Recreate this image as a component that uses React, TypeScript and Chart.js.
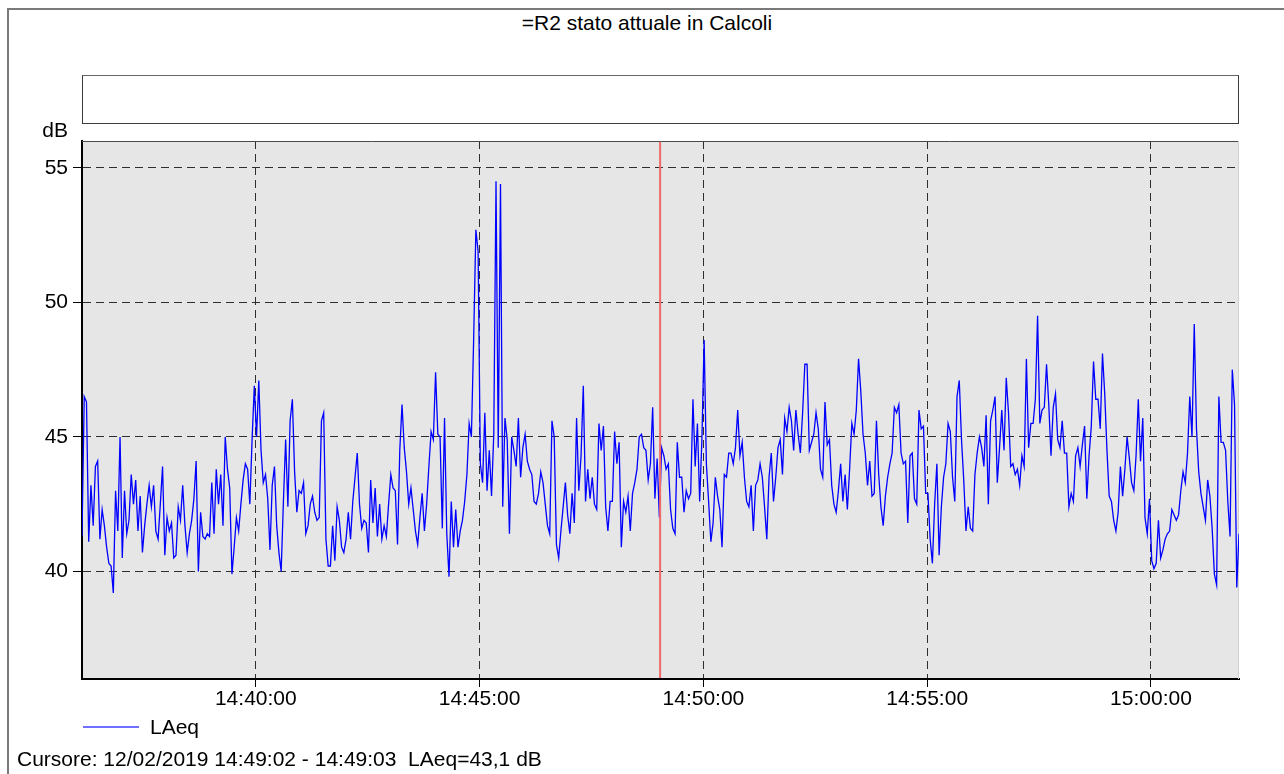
import React, { useEffect, useRef } from "react";
import { Chart, registerables } from "chart.js";

Chart.register(...registerables);

// ---- data ----
const titleText = "=R2 stato attuale in Calcoli";
const unitLabel = "dB";
const seriesName = "LAeq";
const cursorText = "Cursore: 12/02/2019 14:49:02 - 14:49:03  LAeq=43,1 dB";
const startTime = "14:36:07";
const sampleStepSeconds = 3;
const xRange = ["14:36:07", "15:01:58"];
const yRange = [36, 56];
const xTickTimes = ["14:40:00", "14:45:00", "14:50:00", "14:55:00", "15:00:00"];
const yTicks = [40, 45, 50, 55];
const cursorTime = "14:49:02";

// LAeq [dB], one value every 3 s from 14:36:07
const laeq = [
  41.3, 46.5, 46.3, 41.1, 43.2, 41.7, 43.9, 44.1, 41.2, 42.3,
  41.7, 40.9, 40.3, 40.2, 39.2, 43.0, 41.5, 45.0, 40.5, 43.0,
  41.4, 41.9, 43.6, 42.5, 43.4, 41.5, 42.8, 40.7, 41.7, 42.5,
  43.2, 42.4, 43.2, 41.5, 41.2, 42.5, 43.9, 40.6, 42.0, 41.5,
  41.8, 40.5, 40.6, 42.4, 41.9, 43.2, 41.7, 40.7, 41.4, 41.9,
  42.7, 44.1, 40.0, 42.2, 41.3, 41.2, 41.4, 41.3, 43.3, 41.4,
  43.8, 42.5, 43.6, 41.7, 45.0, 43.8, 43.1, 39.9, 40.9, 42.0,
  41.5, 42.5, 43.4, 44.0, 43.8, 42.5, 44.9, 46.9, 45.0, 47.1,
  44.5, 43.3, 43.6, 42.7, 40.8, 43.2, 43.9, 41.7, 40.7, 40.0,
  42.6, 44.9, 42.4, 45.6, 46.4, 43.7, 42.2, 43.0, 42.9, 43.3,
  41.4, 41.7, 42.5, 42.8, 42.2, 41.9, 42.0, 45.6, 45.9, 41.2,
  40.2, 40.2, 41.7, 40.4, 42.4, 41.9, 40.9, 40.7, 41.2, 42.2,
  41.2, 42.6, 43.5, 44.4, 42.5, 41.6, 41.9, 41.8, 40.7, 43.4,
  41.8, 43.1, 41.3, 42.5, 41.2, 41.7, 41.3, 42.5, 43.6, 43.1,
  43.0, 41.0, 44.5, 46.2, 44.6, 43.7, 42.5, 43.1, 42.3, 41.5,
  41.0, 42.0, 42.9, 41.5, 42.5, 43.9, 45.2, 44.9, 47.4, 45.1,
  45.0, 41.6, 45.7, 41.4, 39.8, 42.6, 40.9, 42.3, 40.9, 41.5,
  41.9, 42.6, 43.6, 45.5, 45.0, 48.6, 52.7, 51.9, 44.0, 43.3,
  45.9, 43.0, 44.5, 42.8, 45.1, 54.5, 44.6, 54.4, 42.4, 45.7,
  44.9, 41.4, 45.0, 44.5, 43.9, 45.7, 43.5, 44.6, 45.1, 44.1,
  43.8, 43.6, 42.6, 42.5, 42.9, 43.7, 43.3, 42.5, 41.7, 41.4,
  45.6, 45.0, 41.0, 40.5, 41.5, 42.4, 43.3, 42.1, 41.4, 42.9,
  41.8, 45.7, 43.0, 44.3, 46.9, 42.6, 43.8, 42.7, 43.5, 42.5,
  42.3, 45.5, 44.5, 45.4, 42.4, 41.5, 42.6, 42.6, 45.2, 44.0,
  44.8, 40.9, 42.6, 42.2, 42.8, 41.5, 42.9, 43.3, 43.8, 45.0,
  45.1, 44.6, 44.5, 43.4, 44.0, 46.1, 42.7, 44.2, 42.0, 44.6,
  44.3, 43.8, 44.0, 42.3, 41.6, 41.4, 44.8, 43.5, 43.5, 42.2,
  43.0, 42.7, 42.9, 46.4, 43.9, 45.5, 42.6, 44.9, 48.6, 44.0,
  42.6, 41.1, 41.8, 43.5, 42.8, 42.3, 40.9, 43.6, 43.5, 44.4,
  44.4, 44.0, 44.6, 46.0, 44.3, 44.8, 43.5, 42.6, 42.4, 43.2,
  41.5, 43.2, 43.4, 44.0, 43.5, 42.4, 41.2, 43.5, 44.4, 42.6,
  43.5, 44.6, 44.9, 43.6, 45.7, 45.2, 46.1, 45.6, 44.5, 46.0,
  45.1, 44.4, 45.9, 47.7, 47.7, 44.5, 44.8, 45.1, 45.9, 45.3,
  43.8, 43.5, 46.3, 44.7, 44.9, 43.2, 42.5, 42.2, 43.0, 44.0,
  42.6, 43.6, 42.3, 43.8, 45.5, 45.1, 46.0, 47.9, 46.7, 45.1,
  44.4, 43.2, 44.1, 42.8, 42.9, 45.6, 43.6, 42.4, 41.7, 42.8,
  43.5, 44.0, 44.4, 46.1, 45.9, 46.2, 44.4, 44.0, 44.1, 41.8,
  44.3, 44.4, 42.7, 42.5, 46.0, 45.3, 45.4, 42.9, 42.9, 41.2,
  40.3, 42.5, 44.0, 40.6, 42.4, 43.5, 44.0, 45.5, 45.2, 43.5,
  42.6, 46.5, 47.1, 44.9, 43.4, 41.5, 42.4, 41.6, 41.5, 43.6,
  44.4, 45.0, 44.6, 43.9, 45.8, 42.5, 45.6, 46.0, 46.5, 43.3,
  44.6, 46.0, 44.5, 47.2, 45.9, 43.9, 44.0, 43.6, 43.8, 43.2,
  44.3, 43.9, 47.9, 44.6, 45.5, 45.5, 46.4, 49.5, 45.5, 46.0,
  46.1, 47.7, 46.2, 44.3, 46.1, 46.6, 44.9, 44.6, 45.6, 44.4,
  44.4, 42.4, 42.9, 42.6, 44.3, 44.6, 43.9, 44.7, 45.4, 42.7,
  44.3, 45.4, 47.8, 46.4, 46.4, 45.3, 48.1, 46.6, 44.5, 42.8,
  42.6, 41.9, 41.5, 42.2, 43.9, 42.8, 43.8, 45.0, 44.2, 43.3,
  43.0, 44.3, 46.4, 44.1, 45.7, 42.0, 41.4, 42.7, 40.4, 40.1,
  40.3, 41.9, 40.5, 40.8, 41.2, 41.4, 41.5, 42.3, 42.1, 41.9,
  42.1, 43.0, 43.7, 43.3, 44.4, 46.5, 45.0, 49.2, 45.3, 43.7,
  42.9, 42.4, 41.9, 43.4, 42.8, 41.6, 39.9, 39.5, 46.5, 44.8,
  44.8, 44.5, 42.6, 41.3, 47.5, 46.2, 39.4, 41.4,
];

// ---- helpers ----
const toSec = (t: string) => {
  const [h, m, s] = t.split(":").map(Number);
  return h * 3600 + m * 60 + s;
};
const tickLabelBySec = new Map<number, string>(xTickTimes.map((t) => [toSec(t), t]));

const FONT = '"Liberation Sans", Arial, Helvetica, sans-serif';

const decorPlugin = {
  id: "decor",
  beforeDraw(chart: any) {
    const { ctx, chartArea: a } = chart;
    ctx.save();
    ctx.fillStyle = "#e6e6e6";
    ctx.fillRect(a.left, a.top, a.right - a.left, a.bottom - a.top);
    ctx.restore();
  },
  beforeDatasetsDraw(chart: any) {
    const { ctx, chartArea: a } = chart;
    ctx.save();
    ctx.strokeStyle = "#4a4a4a";
    ctx.lineWidth = 1;
    ctx.beginPath();
    ctx.moveTo(a.left, a.top + 0.5);
    ctx.lineTo(a.right, a.top + 0.5);
    ctx.stroke();
    ctx.strokeStyle = "#d0d0d0";
    ctx.beginPath();
    ctx.moveTo(a.right - 0.5, a.top);
    ctx.lineTo(a.right - 0.5, a.bottom);
    ctx.stroke();
    ctx.restore();
  },
  afterDatasetsDraw(chart: any) {
    const { ctx, chartArea: a } = chart;
    const x = chart.scales.x.getPixelForValue(toSec(cursorTime));
    ctx.save();
    ctx.strokeStyle = "#f06a6a";
    ctx.lineWidth = 2;
    ctx.beginPath();
    ctx.moveTo(x, a.top + 1);
    ctx.lineTo(x, a.bottom - 1);
    ctx.stroke();
    ctx.restore();
  },
};

export default function App() {
  const canvasRef = useRef<HTMLCanvasElement | null>(null);

  useEffect(() => {
    const canvas = canvasRef.current;
    if (!canvas) return;
    const t0 = toSec(startTime);
    const points = laeq.map((v, i) => ({ x: t0 + i * sampleStepSeconds, y: v }));

    const chart = new Chart(canvas, {
      type: "line",
      data: {
        datasets: [
          {
            label: seriesName,
            data: points,
            borderColor: "#0000ff",
            borderWidth: 1.3,
            pointRadius: 0,
            pointHoverRadius: 0,
            tension: 0,
            fill: false,
          },
        ],
      },
      options: {
        animation: false,
        responsive: false,
        maintainAspectRatio: false,
        devicePixelRatio: 1,
        events: [],
        layout: { padding: { left: 0, right: 45, top: 141, bottom: 45 } },
        plugins: {
          legend: { display: false },
          title: { display: false },
          tooltip: { enabled: false },
        },
        scales: {
          x: {
            type: "linear",
            min: toSec(xRange[0]),
            max: toSec(xRange[1]),
            afterBuildTicks: (s: any) => {
              s.ticks = xTickTimes.map((t) => ({ value: toSec(t) }));
            },
            afterFit: (s: any) => {
              s.height = 50;
            },
            ticks: {
              autoSkip: false,
              maxRotation: 0,
              padding: 0,
              color: "#000",
              font: { family: FONT, size: 21 },
              callback: (v: any) => tickLabelBySec.get(Number(v)) ?? "",
            },
            grid: {
              color: "#2e2e2e",
              lineWidth: 1,
              tickLength: 8,
              tickColor: "#000",
              tickWidth: 1,
            },
            border: { display: true, color: "#000", width: 2, dash: [8, 5] },
          },
          y: {
            type: "linear",
            min: yRange[0],
            max: yRange[1],
            afterBuildTicks: (s: any) => {
              s.ticks = yTicks.map((v) => ({ value: v }));
            },
            afterFit: (s: any) => {
              s.width = 82;
            },
            ticks: {
              padding: 5,
              color: "#000",
              font: { family: FONT, size: 21 },
              callback: (v: any) => String(v),
            },
            grid: {
              color: "#2e2e2e",
              lineWidth: 1,
              tickLength: 9,
              tickColor: "#000",
              tickWidth: 1,
            },
            border: { display: true, color: "#000", width: 2, dash: [8, 5] },
          },
        },
      },
      plugins: [decorPlugin],
    } as any);

    return () => chart.destroy();
  }, []);

  const text: React.CSSProperties = {
    position: "absolute",
    fontFamily: FONT,
    fontSize: 21,
    lineHeight: "21px",
    color: "#000",
    whiteSpace: "pre",
  };

  return (
    <div
      style={{
        position: "fixed",
        left: 0,
        top: 0,
        width: 1284,
        height: 774,
        background: "#fff",
        overflow: "hidden",
      }}
    >
      <div
        style={{
          position: "absolute",
          left: 7,
          top: 8,
          width: 1400,
          height: 900,
          borderLeft: "2px solid #7a7a7a",
          borderTop: "2px solid #7a7a7a",
        }}
      />
      <div style={{ ...text, left: 647, top: 12, transform: "translateX(-50%)" }}>{titleText}</div>
      <div
        style={{
          position: "absolute",
          left: 82,
          top: 75,
          width: 1157,
          height: 49,
          boxSizing: "border-box",
          border: "1px solid #3c3c3c",
          borderTopColor: "#666",
        }}
      />
      <canvas
        ref={canvasRef}
        width={1284}
        height={774}
        style={{ position: "absolute", left: 0, top: 0, width: 1284, height: 774 }}
      />
      <div style={{ ...text, left: 0, width: 68, top: 119, textAlign: "right" }}>{unitLabel}</div>
      <div
        style={{
          position: "absolute",
          left: 83,
          top: 726,
          width: 56,
          height: 2,
          background: "#7070ff",
        }}
      />
      <div style={{ ...text, left: 150, top: 716 }}>{seriesName}</div>
      <div style={{ ...text, left: 17, top: 748 }}>{cursorText}</div>
    </div>
  );
}
